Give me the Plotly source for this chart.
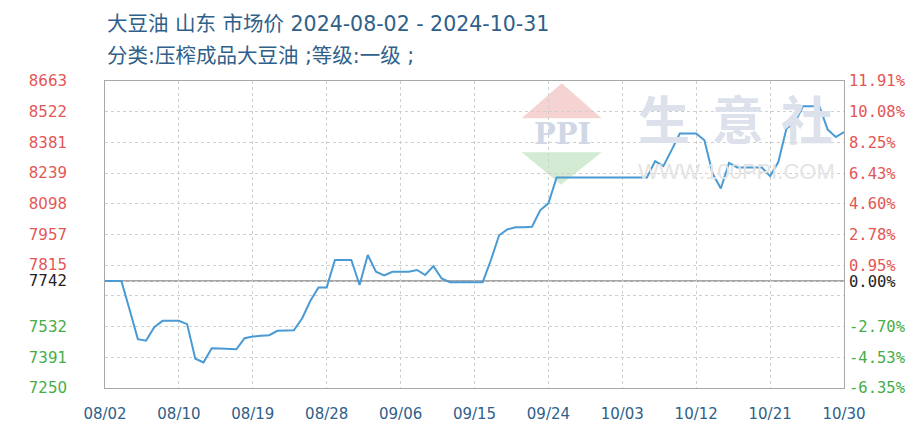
import datetime as dt
import plotly.graph_objects as go

# ---------------- data ----------------
start_date = dt.date(2024, 8, 2)
prices = [
    7742, 7742, 7742, 7610, 7475, 7468, 7530, 7559, 7559, 7559,
    7544, 7385, 7368, 7433, 7432, 7430, 7428, 7479, 7487, 7490,
    7493, 7513, 7515, 7516, 7570, 7650, 7713, 7713, 7839, 7839,
    7839, 7724, 7862, 7785, 7768, 7785, 7785, 7785, 7793, 7770,
    7811, 7754, 7737, 7737, 7737, 7737, 7737, 7839, 7953, 7980,
    7990, 7990, 7992, 8068, 8100, 8219, 8219, 8219, 8219, 8219,
    8219, 8219, 8219, 8219, 8219, 8219, 8219, 8294, 8271, 8345,
    8421, 8421, 8421, 8390, 8237, 8168, 8286, 8265, 8265, 8265,
    8265, 8225, 8290, 8445, 8470, 8547, 8547, 8547, 8440, 8405,
    8428,
]
dates = [start_date + dt.timedelta(days=i) for i in range(len(prices))]

base_price = 7742
y_min, y_max = 7250, 8663
left_tick_vals = [8663, 8521.7, 8380.4, 8239.1, 8097.8, 7956.5, 7815.2, 7742, 7673.9, 7532.6, 7391.3, 7250]
left_tick_text = ["8663", "8522", "8381", "8239", "8098", "7957", "7815", "7742", "", "7532", "7391", "7250"]
right_tick_text = ["11.91%", "10.08%", "8.25%", "6.43%", "4.60%", "2.78%", "0.95%", "0.00%", "", "-2.70%", "-4.53%", "-6.35%"]
x_tick_text = ["08/02", "08/10", "08/19", "08/28", "09/06", "09/15", "09/24", "10/03", "10/12", "10/21", "10/30"]
x_tick_vals = [dates[i] for i in range(0, len(dates), 9)]

title_line1 = "大豆油 山东 市场价 2024-08-02 - 2024-10-31"
title_line2 = "分类:压榨成品大豆油 ;等级:一级 ;"

RED = "#e35656"
GREEN = "#46ad46"
BLACK = "#222222"
TITLE_COLOR = "#2f6089"


def colored(texts, vals):
    out = []
    for t, v in zip(texts, vals):
        if t == "":
            out.append("")
            continue
        c = RED if v > base_price + 1 else (GREEN if v < base_price - 1 else BLACK)
        out.append(f'<span style="color:{c}">{t}</span>')
    return out


fig = go.Figure()
fig.add_trace(go.Scatter(
    x=dates, y=prices, mode="lines",
    line=dict(color="#4a9ad4", width=2),
    hoverinfo="skip", showlegend=False,
))
fig.add_trace(go.Scatter(
    x=dates, y=prices, mode="lines", yaxis="y2",
    line=dict(color="rgba(0,0,0,0)", width=0),
    hoverinfo="skip", showlegend=False,
))

# base line
fig.add_shape(type="line", xref="paper", x0=0, x1=1, yref="y", y0=base_price, y1=base_price,
              line=dict(color="#8a8a8a", width=1.5), layer="below")

# watermark (decorative)
wm_chars = ["生", "意", "社"]
wm_x = [0.757, 0.857, 0.950]
for ch, xx in zip(wm_chars, wm_x):
    fig.add_annotation(xref="paper", yref="paper", x=xx, y=0.88, xanchor="center", yanchor="middle",
                       text=f"<b>{ch}</b>", showarrow=False,
                       font=dict(family="Noto Sans CJK SC", size=52, color="#dce1eb"))
fig.add_annotation(xref="paper", yref="paper", x=0.854, y=0.705, xanchor="center", yanchor="middle",
                   text="WWW.100PPI.COM", showarrow=False,
                   font=dict(family="Liberation Sans", size=22, color="#e4e4e4"))
fig.add_shape(type="path", xref="paper", yref="paper",
              path="M 0.564 0.879 L 0.618 0.993 L 0.672 0.879 Z",
              fillcolor="#f6d3d3", line=dict(width=0), layer="below")
fig.add_shape(type="path", xref="paper", yref="paper",
              path="M 0.564 0.768 L 0.672 0.768 L 0.617 0.662 Z",
              fillcolor="#d2ebd2", line=dict(width=0), layer="below")
fig.add_annotation(xref="paper", yref="paper", x=0.619, y=0.826, xanchor="center", yanchor="middle",
                   text="<b>PPI</b>", showarrow=False,
                   font=dict(family="DejaVu Serif", size=29, color="#d0d7e5"))

# titles
title_font = dict(family="DejaVu Sans, Noto Sans CJK SC", size=20.5, color=TITLE_COLOR)
fig.add_annotation(xref="paper", yref="paper", x=0, y=1, xanchor="left", yanchor="middle",
                   yshift=(81 - 24), text=title_line1, showarrow=False, font=title_font)
fig.add_annotation(xref="paper", yref="paper", x=0, y=1, xanchor="left", yanchor="middle",
                   yshift=(81 - 56), text=title_line2, showarrow=False, font=title_font)

grid = dict(showgrid=True, gridcolor="#cfcfcf", gridwidth=1, griddash="3px,3px")

fig.update_layout(
    width=918, height=442,
    margin=dict(l=105, r=72, t=81, b=54),
    paper_bgcolor="white", plot_bgcolor="white",
    xaxis=dict(
        type="date",
        range=[dates[0], dates[-1]],
        tickvals=x_tick_vals, ticktext=x_tick_text,
        tickfont=dict(family="DejaVu Sans", size=15, color=TITLE_COLOR),
        ticklabelstandoff=12,
        showline=True, linecolor="#a8a8a8", linewidth=1, mirror=True,
        ticks="", zeroline=False, **grid,
    ),
    yaxis=dict(
        range=[y_min, y_max],
        tickvals=left_tick_vals, ticktext=colored(left_tick_text, left_tick_vals),
        tickfont=dict(family="DejaVu Sans", size=15, color=BLACK),
        ticklabelstandoff=34,
        showline=True, linecolor="#a8a8a8", linewidth=1, mirror=True,
        ticks="", zeroline=False, **grid,
    ),
    yaxis2=dict(
        overlaying="y", side="right", matches="y",
        range=[y_min, y_max],
        tickvals=left_tick_vals, ticktext=colored(right_tick_text, left_tick_vals),
        tickfont=dict(family="DejaVu Sans Mono", size=15.5, color=BLACK),
        ticklabelstandoff=4,
        showgrid=False, zeroline=False, ticks="", showline=False,
    ),
)

fig.write_html("out.html", config={"displayModeBar": False},
               post_script="document.body.style.margin='0px';")
